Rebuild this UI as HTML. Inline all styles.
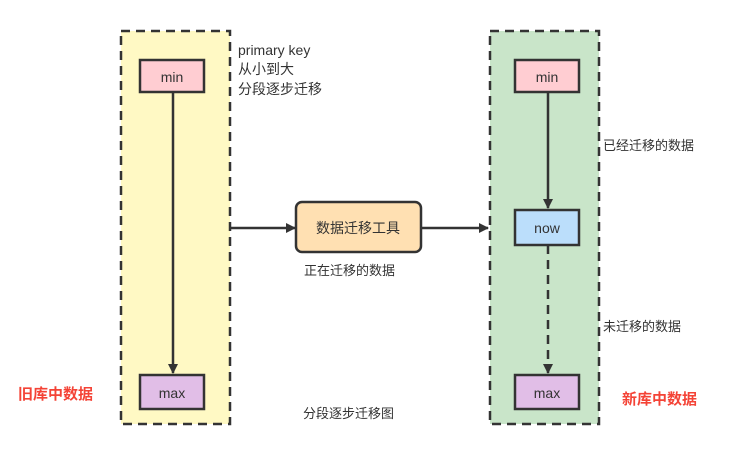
<!DOCTYPE html>
<html><head><meta charset="utf-8"><style>
body{margin:0;background:#fff;}
svg text{font-family:"Liberation Sans","Noto Sans CJK SC",sans-serif;fill:#333;}
</style></head><body>
<svg width="746" height="468" viewBox="0 0 746 468" xmlns="http://www.w3.org/2000/svg">
<defs><marker id="a" markerWidth="10" markerHeight="10" refX="9" refY="5" orient="auto" markerUnits="userSpaceOnUse"><path d="M0,0 L10,5 L0,10 Z" fill="#333"/></marker></defs>
<rect x="121" y="31" width="109" height="393" fill="#fff9c4" stroke="#333" stroke-width="2.5" stroke-dasharray="9,6"/>
<rect x="490" y="31" width="109" height="393" fill="#c9e5c9" stroke="#333" stroke-width="2.5" stroke-dasharray="9,6"/>
<line x1="173" y1="92" x2="173" y2="373" stroke="#333" stroke-width="2.5" marker-end="url(#a)"/>
<line x1="230" y1="228" x2="295" y2="228" stroke="#333" stroke-width="2.5" marker-end="url(#a)"/>
<line x1="421" y1="228" x2="488" y2="228" stroke="#333" stroke-width="2.5" marker-end="url(#a)"/>
<line x1="548" y1="92" x2="548" y2="208" stroke="#333" stroke-width="2.5" marker-end="url(#a)"/>
<line x1="548" y1="245" x2="548" y2="373" stroke="#333" stroke-width="2.5" stroke-dasharray="9,6" marker-end="url(#a)"/>
<rect x="140" y="60" width="64" height="32" fill="#ffcdd2" stroke="#333" stroke-width="2.5"/>
<text x="172" y="82" font-size="14" text-anchor="middle">min</text>
<rect x="140" y="375" width="64" height="34" fill="#e1bee7" stroke="#333" stroke-width="2.5"/>
<text x="172" y="398" font-size="14" text-anchor="middle">max</text>
<rect x="515" y="60" width="64" height="32" fill="#ffcdd2" stroke="#333" stroke-width="2.5"/>
<text x="547" y="82" font-size="14" text-anchor="middle">min</text>
<rect x="515" y="210" width="64" height="35" fill="#bbdefb" stroke="#333" stroke-width="2.5"/>
<text x="547" y="233" font-size="14" text-anchor="middle">now</text>
<rect x="515" y="375" width="64" height="34" fill="#e1bee7" stroke="#333" stroke-width="2.5"/>
<text x="547" y="398" font-size="14" text-anchor="middle">max</text>
<rect x="296" y="202" width="125" height="50" rx="6" fill="#ffe0b2" stroke="#333" stroke-width="2.5"/>
<text x="358" y="233" font-size="14" text-anchor="middle">数据迁移工具</text>
<text x="238" y="55" font-size="14">primary key</text>
<text x="238" y="74" font-size="14">从小到大</text>
<text x="238" y="94" font-size="14">分段逐步迁移</text>
<text x="304" y="275" font-size="13">正在迁移的数据</text>
<text x="603" y="150" font-size="13">已经迁移的数据</text>
<text x="603" y="331" font-size="13">未迁移的数据</text>
<text x="303" y="418" font-size="13">分段逐步迁移图</text>
<text x="18" y="399" font-size="15" font-weight="bold" style="fill:#f44336">旧库中数据</text>
<text x="622" y="404" font-size="15" font-weight="bold" style="fill:#f44336">新库中数据</text>
</svg>
</body></html>
